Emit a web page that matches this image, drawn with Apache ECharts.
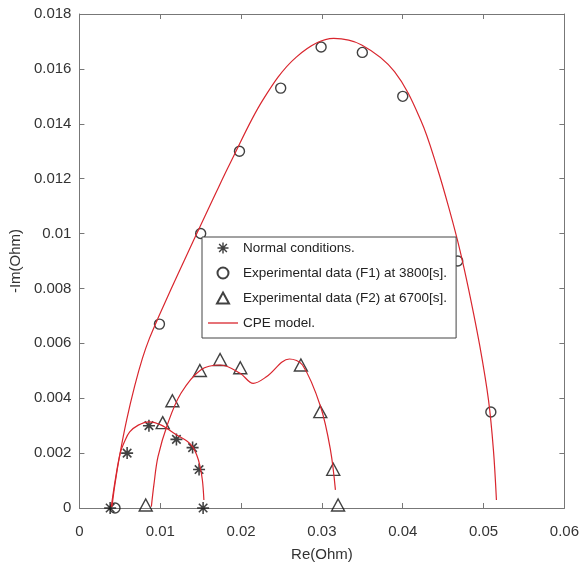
<!DOCTYPE html>
<html>
<head>
<meta charset="utf-8">
<script src="https://cdn.jsdelivr.net/npm/echarts@6/dist/echarts.min.js"></script>
<style>
  html, body { margin: 0; padding: 0; background: #fff; }
  #chart { width: 582px; height: 570px; }
</style>
</head>
<body>
<div id="chart"></div>
<script>
// measured points
var normalRe = [0.0038, 0.0059, 0.0086, 0.0120, 0.0140, 0.0148, 0.0153];
var normalIm = [0.0000, 0.0020, 0.0030, 0.0025, 0.0022, 0.0014, 0.0000];
var f1Re = [0.0044, 0.0099, 0.0150, 0.0198, 0.0249, 0.0299, 0.0350, 0.0400, 0.0468, 0.0509];
var f1Im = [0.0000, 0.0067, 0.0100, 0.0130, 0.0153, 0.0168, 0.0166, 0.0150, 0.0090, 0.0035];
var f2Re = [0.0082, 0.0103, 0.0115, 0.0149, 0.0174, 0.0199, 0.0274, 0.0298, 0.0314, 0.0320];
var f2Im = [0.0000, 0.0030, 0.0038, 0.0049, 0.0053, 0.0050, 0.0051, 0.0034, 0.0013, 0.0000];

// CPE model curves
var cpeNRe = [0.00394, 0.00443, 0.00504, 0.00561, 0.00622, 0.00728, 0.00862, 0.01012, 0.01204,
              0.01329, 0.01402, 0.01451, 0.01488, 0.01521, 0.01540];
var cpeNIm = [0.00005, 0.00102, 0.00199, 0.00244, 0.00277, 0.00302, 0.00314, 0.00302, 0.00266,
              0.00244, 0.00223, 0.00193, 0.00157, 0.00102, 0.00029];
var cpeF1Re = [0.00402, 0.00439, 0.00500, 0.00585, 0.00683, 0.00780, 0.00866, 0.00988, 0.01134, 0.01317,
               0.01500, 0.01683, 0.01866, 0.02268, 0.02683, 0.03146, 0.03492, 0.03898, 0.04223, 0.04427,
               0.04585, 0.04707, 0.04817, 0.04951, 0.05061, 0.05122, 0.05159];
var cpeF1Im = [0.00004, 0.00086, 0.00195, 0.00322, 0.00444, 0.00546, 0.00618, 0.00702, 0.00798, 0.00915,
               0.01030, 0.01145, 0.01257, 0.01486, 0.01643, 0.01711, 0.01687, 0.01590, 0.01413, 0.01239,
               0.01078, 0.00940, 0.00794, 0.00594, 0.00393, 0.00211, 0.00029];
var cpeF2Re = [0.00890, 0.00921, 0.00972, 0.01094, 0.01256, 0.01500, 0.01744, 0.01988, 0.02150, 0.02313,
               0.02598, 0.02760, 0.02984, 0.03106, 0.03167];
var cpeF2Im = [0.00005, 0.00084, 0.00187, 0.00309, 0.00418, 0.00503, 0.00521, 0.00491, 0.00454, 0.00478,
               0.00543, 0.00521, 0.00369, 0.00211, 0.00066];

var legendNames = ['Normal conditions.', 'Experimental data (F1) at 3800[s].',
                   'Experimental data (F2) at 6700[s].', 'CPE model.'];

function pairs(xs, ys) {
  return xs.map(function(x, i) { return [x, ys[i]]; });
}

var red = '#d9262e';
var axisCol = '#777';
var textCol = '#333';
var font = 'Liberation Sans, Arial, sans-serif';
var star = 'path://M0 8.7L20 8.7L20 11.3L0 11.3Z M8.7 0L11.3 0L11.3 20L8.7 20Z M3.85 2.01L17.99 16.15L16.15 17.99L2.01 3.85Z M17.99 3.85L3.85 17.99L2.01 16.15L16.15 2.01Z';
var tri = 'path://M6 0L12 11L0 11Z';
var dash = 'path://M0 0L30 0L30 1.3L0 1.3Z';

var chart = echarts.init(document.getElementById('chart'));

function valueAxis(pos, min, max, step, show, name) {
  return {
    type: 'value', position: pos, min: min, max: max, interval: step,
    name: show ? name : '', nameLocation: 'middle',
    nameGap: pos === 'bottom' ? 39 : 45,
    nameTextStyle: { color: textCol, fontSize: 15, fontFamily: font },
    axisLine: { show: true, onZero: false, lineStyle: { color: axisCol, width: 1 } },
    axisTick: { show: true, inside: true, length: 5, lineStyle: { color: axisCol } },
    axisLabel: { show: show, color: textCol, fontSize: 15, fontFamily: font,
      margin: pos === 'bottom' ? 16 : 8,
      formatter: function(v) { return +v.toFixed(4) + ''; } },
    splitLine: { show: false }
  };
}

var emptyStyle = { color: 'rgba(255,255,255,0)', borderColor: '#111', borderWidth: 1.4 };

function modelSeries(xs, ys) {
  return { name: legendNames[3], type: 'line', data: pairs(xs, ys), smooth: 0.35,
    symbol: 'none', lineStyle: { color: red, width: 1.2 }, itemStyle: { color: red } };
}

chart.setOption({
  animation: false,
  backgroundColor: '#fff',
  grid: { left: 77, right: 13, top: 14, bottom: 62 },
  xAxis: [
    valueAxis('bottom', 0, 0.06, 0.01, true, 'Re(Ohm)'),
    valueAxis('top', 0, 0.06, 0.01, false)
  ],
  yAxis: [
    valueAxis('left', 0, 0.018, 0.002, true, '-Im(Ohm)'),
    valueAxis('right', 0, 0.018, 0.002, false)
  ],
  legend: {
    orient: 'vertical', left: 202, top: 237,
    backgroundColor: '#fff', borderColor: '#444', borderWidth: 1,
    padding: [4, 9, 8, 6], itemGap: 11, itemWidth: 30, itemHeight: 11,
    textStyle: { color: '#222', fontSize: 13.5, fontFamily: font },
    data: [
      { name: legendNames[0], icon: star },
      { name: legendNames[1], icon: 'circle' },
      { name: legendNames[2], icon: tri },
      { name: legendNames[3], icon: dash }
    ]
  },
  series: [
    modelSeries(cpeNRe, cpeNIm),
    modelSeries(cpeF1Re, cpeF1Im),
    modelSeries(cpeF2Re, cpeF2Im),
    { name: legendNames[0], type: 'scatter', data: pairs(normalRe, normalIm),
      symbol: star, symbolSize: 12, itemStyle: { color: '#111' } },
    { name: legendNames[1], type: 'scatter', data: pairs(f1Re, f1Im),
      symbol: 'circle', symbolSize: 10, itemStyle: emptyStyle },
    { name: legendNames[2], type: 'scatter', data: pairs(f2Re, f2Im),
      symbol: tri, symbolSize: [13, 12], symbolOffset: [0, -3], itemStyle: emptyStyle }
  ]
});
</script>
</body>
</html>
